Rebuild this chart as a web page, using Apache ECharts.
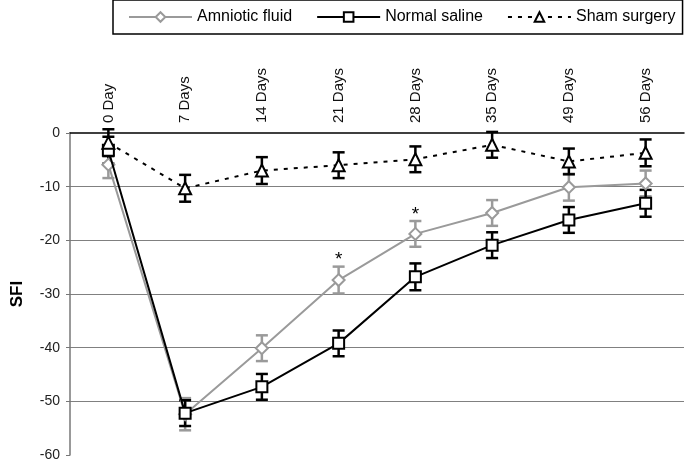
<!DOCTYPE html>
<html>
<head>
<meta charset="utf-8">
<script src="https://cdn.jsdelivr.net/npm/echarts@6/dist/echarts.min.js"></script>
<style>html,body{margin:0;padding:0;background:#fff}#c{width:686px;height:460px}</style>
</head>
<body>
<div id="c"></div>
<script>
const categories = ['0 Day', '7 Days', '14 Days', '21 Days', '28 Days', '35 Days', '49 Days', '56 Days'];
const yTicks = [-60, -50, -40, -30, -20, -10, 0];
const amniotic = [-5.9, -52.4, -40.1, -27.4, -18.8, -14.9, -10.1, -9.4];
const amnioticErr = [2.5, 3.0, 2.4, 2.5, 2.4, 2.4, 2.5, 2.4];
const saline = [-3.2, -52.2, -47.3, -39.2, -26.8, -20.9, -16.2, -13.1];
const salineErr = [2.5, 2.4, 2.4, 2.4, 2.5, 2.4, 2.4, 2.5];
const sham = [-1.8, -10.3, -7.0, -6.0, -4.9, -2.2, -5.3, -3.7];
const shamErr = [2.5, 2.5, 2.5, 2.4, 2.4, 2.4, 2.4, 2.5];
const amnioticSignif = [false, false, false, true, true, false, false, false];

const FONT = '"Liberation Sans", Arial, sans-serif';
const GRAY = '#9a9a9a';

function errorBars(id, values, errs, color, width, z) {
  return {
    type: 'custom',
    id: id,
    silent: true,
    z: z,
    data: values.map((v, i) => [i, v - errs[i], v + errs[i]]),
    encode: { x: 0, y: [1, 2] },
    renderItem: function (params, api) {
      const x = api.value(0);
      const lo = api.coord([x, api.value(1)]);
      const hi = api.coord([x, api.value(2)]);
      const half = 6;
      const st = { stroke: color, lineWidth: width };
      return {
        type: 'group',
        children: [
          { type: 'line', shape: { x1: lo[0], y1: lo[1], x2: hi[0], y2: hi[1] }, style: st },
          { type: 'line', shape: { x1: lo[0] - half, y1: lo[1], x2: lo[0] + half, y2: lo[1] }, style: st },
          { type: 'line', shape: { x1: hi[0] - half, y1: hi[1], x2: hi[0] + half, y2: hi[1] }, style: st }
        ]
      };
    }
  };
}

const signifData = [];
amnioticSignif.forEach((s, i) => { if (s) signifData.push([i, amniotic[i] + amnioticErr[i]]); });

const chart = echarts.init(document.getElementById('c'), null, { renderer: 'canvas' });
chart.setOption({
  animation: false,
  textStyle: { fontFamily: FONT },
  grid: { left: 70, right: 2, top: 133, bottom: 5, outerBoundsMode: 'none', containLabel: false },
  legend: {
    data: ['Amniotic fluid', 'Normal saline', 'Sham surgery'],
    left: 113,
    top: 0,
    padding: [9, 7, 9, 15],
    borderColor: '#000',
    borderWidth: 1.5,
    itemWidth: 63,
    itemHeight: 12,
    itemGap: 24,
    textStyle: { fontFamily: FONT, fontSize: 16, color: '#000' }
  },
  xAxis: {
    type: 'category',
    position: 'top',
    data: categories,
    boundaryGap: true,
    axisLine: { lineStyle: { color: '#000', width: 1.5 } },
    axisTick: { inside: true, length: 5, lineStyle: { color: '#000' } },
    axisLabel: { rotate: 90, margin: 10, fontSize: 15, color: '#111', fontFamily: FONT },
    splitLine: { show: false }
  },
  yAxis: {
    type: 'value',
    min: yTicks[0],
    max: yTicks[yTicks.length - 1],
    interval: 10,
    name: 'SFI',
    nameLocation: 'middle',
    nameGap: 44,
    nameTextStyle: { fontWeight: 'bold', fontSize: 17, color: '#000', fontFamily: FONT },
    axisLine: { show: true, lineStyle: { color: '#777', width: 1.5 } },
    axisTick: { show: true, inside: false, length: 4, lineStyle: { color: '#777' } },
    axisLabel: { margin: 10, fontSize: 14, color: '#222', fontFamily: FONT },
    splitLine: { show: true, showMinLine: false, showMaxLine: false, lineStyle: { color: '#808080', width: 1 } }
  },
  series: [
    errorBars('errA', amniotic, amnioticErr, GRAY, 2.5, 1),
    errorBars('errN', saline, salineErr, '#000', 2.5, 2),
    errorBars('errS', sham, shamErr, '#000', 2.5, 3),
    {
      name: 'Amniotic fluid',
      type: 'line',
      data: amniotic,
      z: 4,
      symbol: 'diamond',
      symbolSize: 12,
      lineStyle: { color: GRAY, width: 2 },
      itemStyle: { color: '#fff', borderColor: GRAY, borderWidth: 2 }
    },
    {
      name: 'Normal saline',
      type: 'line',
      data: saline,
      z: 5,
      symbol: 'rect',
      symbolSize: 11,
      lineStyle: { color: '#000', width: 2 },
      itemStyle: { color: '#fff', borderColor: '#000', borderWidth: 2 }
    },
    {
      name: 'Sham surgery',
      type: 'line',
      data: sham,
      z: 6,
      symbol: 'triangle',
      symbolSize: 12,
      lineStyle: { color: '#000', width: 2, type: [4, 6] },
      itemStyle: { color: '#fff', borderColor: '#000', borderWidth: 2 }
    },
    {
      type: 'custom',
      id: 'signif',
      silent: true,
      z: 7,
      data: signifData,
      encode: { x: 0, y: 1 },
      renderItem: function (params, api) {
        const p = api.coord([api.value(0), api.value(1)]);
        return {
          type: 'text',
          style: { text: '*', x: p[0], y: p[1] + 3, align: 'center', verticalAlign: 'bottom', font: '19px ' + FONT, fill: '#000' }
        };
      }
    }
  ]
});
</script>
</body>
</html>
